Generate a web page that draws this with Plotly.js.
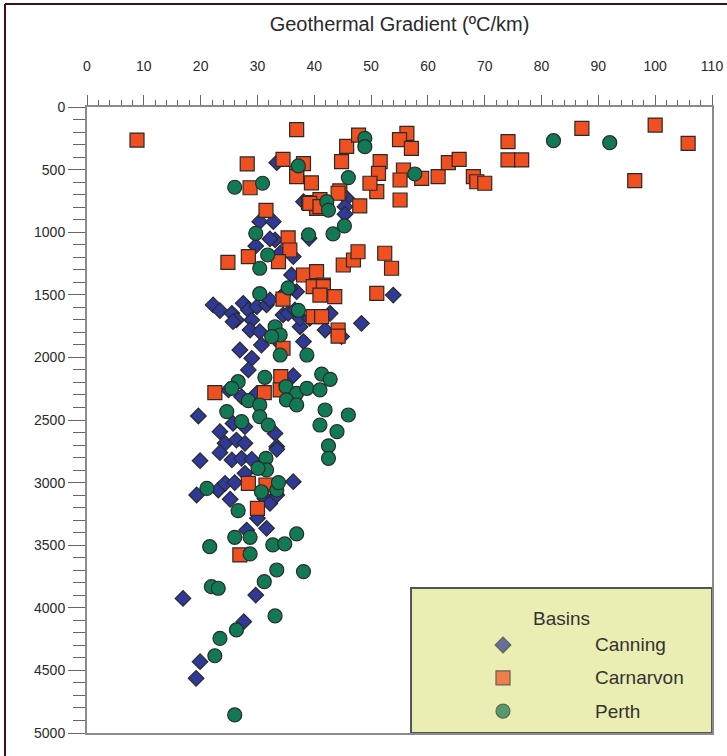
<!DOCTYPE html>
<html>
<head>
<meta charset="utf-8">
<script src="https://cdn.plot.ly/plotly-3.0.1.min.js"></script>
<style>html,body{margin:0;padding:0;background:#fff;}#chart{width:727px;height:756px;}</style>
</head>
<body>
<div id="chart"></div>
<script>
// Geothermal gradient (°C/km) and depth (m) per basin
const canningGradient = [33.4,45.7,45.4,45.4,38.1,30.4,32.8,33.1,32.2,29.7,36.3,34.0,36.0,39.1,36.9,35.7,34.5,53.9,
  22.2,23.4,25.5,26.3,25.7,27.5,28.4,29.0,28.7,29.9,31.6,32.2,30.4,30.7,33.4,34.5,35.4,36.6,37.5,38.1,41.9,42.8,44.8,48.3,37.5,39.2,
  26.9,29.0,28.4,36.3,29.9,27.2,24.9,
  19.6,23.4,25.7,27.8,33.1,24.3,26.3,27.8,33.4,
  19.9,23.4,25.5,27.2,29.0,33.4,27.8,
  19.3,23.1,24.3,26.0,25.2,36.3,31.3,32.2,33.4,
  30.0,31.6,28.1,
  16.9,29.7,27.6,19.9,19.2];
const canningDepth = [445,729,796,856,756,916,916,1062,1054,1110,1195,1168,1342,1049,1475,1448,1502,1502,
  1581,1627,1648,1701,1715,1568,1621,1701,1781,1595,1581,1541,1794,1901,1861,1661,1648,1621,1755,1874,1781,1648,1834,1728,1688,1688,
  1941,2007,2100,2146,2287,2314,2260,
  2468,2593,2527,2553,2607,2686,2660,2686,2713,
  2825,2761,2819,2806,2814,2734,2926,
  3099,3059,3006,3000,3133,2993,3126,3166,3099,
  3285,3365,3379,
  3925,3898,4111,4430,4563];

const carnarvonGradient = [8.8,36.9,28.2,34.5,38.1,36.9,36.9,39.5,28.7,45.7,44.8,47.8,44.5,39.0,41.0,40.4,39.2,41.0,44.2,48.0,
  31.5,35.4,35.7,28.4,24.8,33.7,38.1,40.4,41.6,45.1,46.9,47.7,52.4,53.6,39.8,41.6,41.0,43.6,51.0,34.5,39.8,41.3,44.2,44.2,
  34.5,34.1,22.5,31.2,34.0,28.4,31.5,30.0,26.9,
  56.3,55.0,57.1,55.7,55.1,58.9,55.1,61.8,63.6,65.5,68.0,68.6,70.0,74.1,74.1,76.5,87.1,96.4,100.0,105.8,
  51.6,51.3,51.0,49.8];
const carnarvonDepth = [264,180,455,418,452,530,556,606,645,314,437,224,670,764,740,809,769,796,689,790,
  826,1045,1142,1195,1241,1235,1342,1315,1422,1262,1222,1156,1168,1288,1435,1435,1502,1515,1488,1535,1675,1675,1781,1830,
  1927,2154,2282,2282,2260,3006,3019,3206,3578,
  210,260,330,503,583,570,743,556,445,418,556,597,609,277,423,423,170,588,144,290,
  437,530,676,609];

const perthGradient = [82.1,92.0,57.7,48.9,48.9,37.2,26.0,30.9,46.0,42.2,42.5,45.3,43.3,29.7,39.0,31.8,30.4,30.4,35.4,37.2,
  33.1,34.0,32.5,34.0,38.7,31.3,41.3,42.8,26.6,25.5,35.0,36.9,38.7,41.0,28.4,30.4,35.1,36.9,24.6,30.4,31.9,27.2,41.9,41.0,46.0,44.0,
  42.5,42.5,31.5,31.6,30.1,21.1,30.7,33.4,33.7,26.6,26.0,28.7,28.7,21.6,32.7,34.8,36.9,33.4,31.2,38.1,21.9,23.1,
  33.1,26.3,23.4,22.5,26.0];
const perthDepth = [269,285,535,250,317,471,641,609,564,756,823,950,1014,1009,1022,1182,1288,1491,1444,1624,
  1755,1821,1834,1981,1981,2159,2133,2175,2194,2247,2234,2287,2247,2260,2346,2380,2340,2380,2433,2473,2540,2513,2420,2540,2460,2593,
  2706,2806,2806,2899,2886,3046,3073,3059,3000,3224,3437,3437,3570,3512,3498,3490,3410,3698,3791,3711,3831,3844,
  4065,4177,4244,4383,4856];

const basinNames = ['Canning','Carnarvon','Perth'];
const legendTitle = 'Basins';
const xTitle = 'Geothermal Gradient (ºC/km)';

const colors = {Canning:'#2e3a96', Carnarvon:'#f04f20', Perth:'#117a54'};
const symbols = {Canning:'diamond', Carnarvon:'square', Perth:'circle'};
const sizes = {Canning:12, Carnarvon:14, Perth:14};
const outline = {color:'#2a2a2a', width:1.2};
const font = 'Liberation Sans, Arial, sans-serif';

function mk(name, x, y){
  return {type:'scatter', mode:'markers', name:name, x:x, y:y, showlegend:false, hoverinfo:'x+y',
    marker:{symbol:symbols[name], size:sizes[name], color:colors[name], line:outline}};
}
const traces = [
  mk('Canning', canningGradient, canningDepth),
  mk('Carnarvon', carnarvonGradient, carnarvonDepth),
  mk('Perth', perthGradient, perthDepth)
];

// custom legend box (drawn on an overlay axis in box-relative units)
const legY = [0.1406, 0.0879, 0.0351];
traces.push({type:'scatter', mode:'markers', xaxis:'x2', yaxis:'y2', showlegend:false, hoverinfo:'skip',
  x:basinNames.map(()=>0.6656), y:legY,
  marker:{symbol:basinNames.map(n=>symbols[n]), size:basinNames.map(n=>sizes[n]), color:basinNames.map(n=>colors[n]), line:outline}});

const annotations = [
  {xref:'paper', yref:'paper', x:0.7584, y:0.1837, text:legendTitle, showarrow:false, xanchor:'center', yanchor:'middle', font:{family:font, size:19, color:'#333'}}
];
basinNames.forEach((n,i)=>annotations.push({xref:'paper', yref:'paper', x:0.8096, y:legY[i], text:n, showarrow:false,
  xanchor:'left', yanchor:'middle', font:{family:font, size:19, color:'#333'}}));

const layout = {
  width:727, height:756,
  margin:{l:87, r:15, t:107, b:23},
  paper_bgcolor:'#ffffff', plot_bgcolor:'rgba(0,0,0,0)',
  font:{family:font, color:'#333'},
  xaxis:{range:[0,110], side:'top', dtick:10, tick0:0, ticks:'outside', ticklen:10, tickwidth:1, tickcolor:'#666',
    minor:{dtick:2, ticks:'outside', ticklen:5, tickcolor:'#666', tickwidth:1},
    showline:true, linecolor:'#8a8a8a', linewidth:2, mirror:true, showgrid:false, zeroline:false,
    ticklabelstandoff:18, tickfont:{family:font, size:14, color:'#2a2a2a'},
    title:{text:xTitle, font:{family:font, size:20, color:'#2a2a2a'}, standoff:21}},
  yaxis:{range:[5000,0], dtick:500, tick0:0, ticks:'outside', ticklen:17, tickwidth:1, tickcolor:'#666',
    minor:{dtick:100, ticks:'outside', ticklen:12, tickcolor:'#666', tickwidth:1},
    showline:true, linecolor:'#8a8a8a', linewidth:2, mirror:true, showgrid:false, zeroline:false,
    tickfont:{family:font, size:14, color:'#2a2a2a'}},
  xaxis2:{overlaying:'x', range:[0,1], visible:false, fixedrange:true},
  yaxis2:{overlaying:'y', range:[0,1], visible:false, fixedrange:true},
  shapes:[
    {type:'rect', xref:'paper', yref:'paper', x0:0.5184, x1:1, y0:0, y1:0.2316, layer:'below',
      fillcolor:'#eaeeb2', line:{color:'#555', width:2}},
    {type:'line', xref:'paper', yref:'paper', x0:-0.1312, x1:-0.1312, y0:-0.05, y1:1.1645, line:{color:'#3d1313', width:2}},
    {type:'line', xref:'paper', yref:'paper', x0:-0.1312, x1:1.04, y0:1.1645, y1:1.1645, line:{color:'#3d1313', width:2}}
  ],
  annotations:annotations,
  showlegend:false
};
Plotly.newPlot('chart', traces, layout, {displayModeBar:false, staticPlot:true});
</script>
</body>
</html>
